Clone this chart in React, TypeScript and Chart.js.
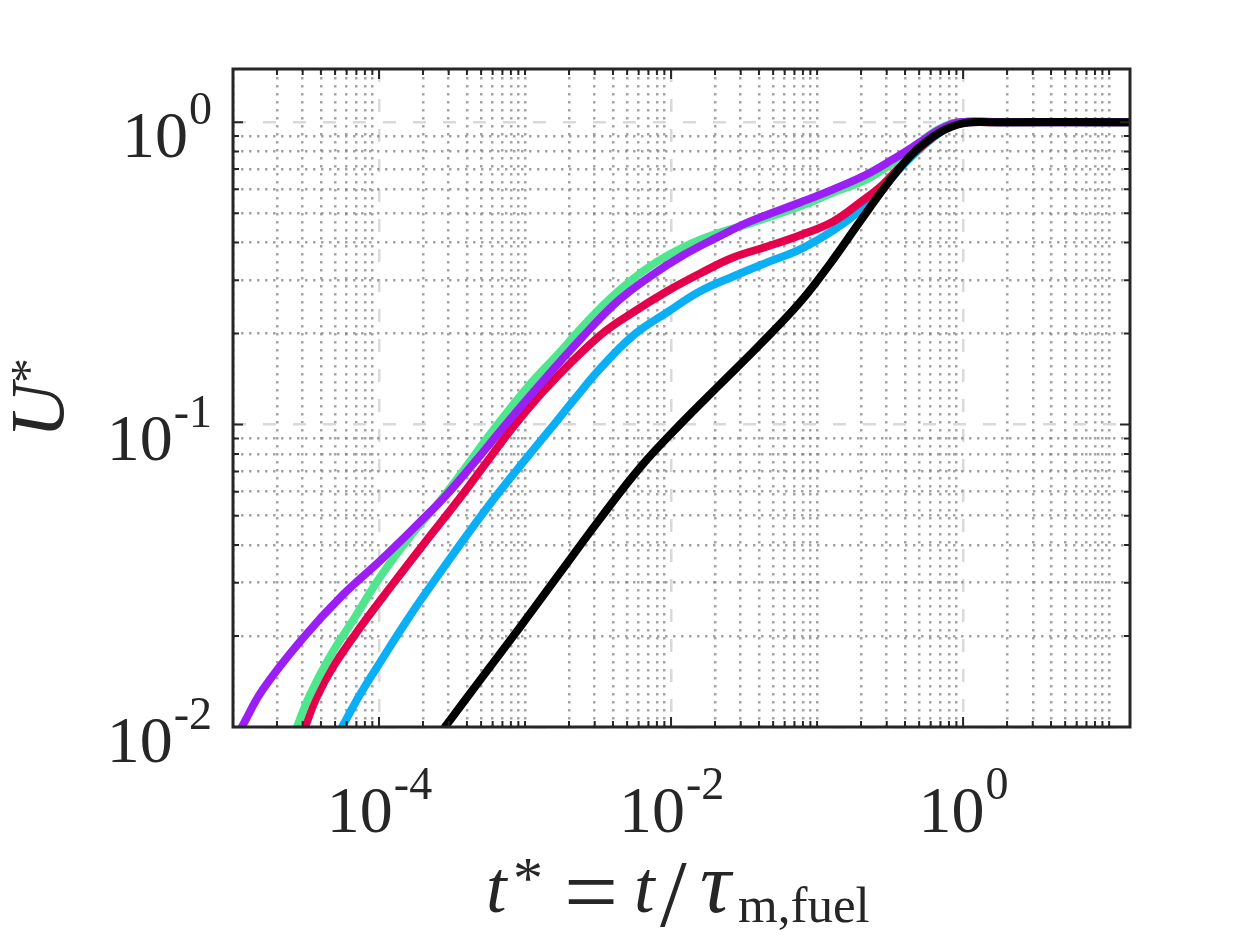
import React, { useEffect, useRef } from 'react';
import { Chart, registerables } from 'chart.js';

Chart.register(...registerables);

// axis limits
const T_MIN = 1e-5;
const T_MAX = 13.9;
const U_MIN = 0.01;
const U_MAX = 1.5;

// decades that carry a label (and a dashed major grid line)
const xLabelExps = [-4, -2, 0];
const yLabelExps = [-2, -1, 0];

// series: t* and U*
const blackT = [2.83e-4, 4.92e-4, 9.24e-4, 1.74e-3, 3.26e-3, 6.13e-3, 1.15e-2, 2.17e-2, 4.07e-2, 7.65e-2, 0.123, 0.197, 0.316, 0.469, 0.696, 1.0, 1.53, 13.9];
const blackU = [0.01, 0.0143, 0.0214, 0.0324, 0.0488, 0.0721, 0.1, 0.136, 0.184, 0.254, 0.341, 0.47, 0.643, 0.802, 0.927, 0.992, 1.0, 1.0];

const purpleT = [1.15e-5, 1.6e-5, 3.02e-5, 5.67e-5, 1.02e-4, 1.91e-4, 2.83e-4, 4.55e-4, 7.18e-4, 1.27e-3, 2.5e-3, 4.27e-3, 7.18e-3, 1.21e-2, 2.07e-2, 3.48e-2, 7.65e-2, 0.129, 0.22, 0.332, 0.484, 0.696, 0.954, 1.79, 13.9];
const purpleU = [0.01, 0.0133, 0.0197, 0.0274, 0.0355, 0.0477, 0.0578, 0.0754, 0.0985, 0.136, 0.196, 0.255, 0.309, 0.363, 0.416, 0.47, 0.543, 0.6, 0.673, 0.755, 0.846, 0.948, 1.0, 1.0, 1.0];

const greenT = [2.74e-5, 3.37e-5, 4.62e-5, 6.85e-5, 1.02e-4, 1.63e-4, 2.83e-4, 6.23e-4, 1.08e-3, 1.74e-3, 2.66e-3, 4.27e-3, 7.18e-3, 1.21e-2, 2.07e-2, 3.48e-2, 7.65e-2, 0.129, 0.22, 0.332, 0.484, 0.696, 0.954, 1.79, 13.9];
const greenU = [0.01, 0.0128, 0.0171, 0.0231, 0.0314, 0.0426, 0.0586, 0.0977, 0.136, 0.174, 0.219, 0.274, 0.334, 0.386, 0.429, 0.463, 0.527, 0.586, 0.648, 0.737, 0.846, 0.955, 1.0, 1.0, 1.0];

const redT = [3.11e-5, 3.76e-5, 4.84e-5, 7.41e-5, 1.23e-4, 2.0e-4, 3.59e-4, 5.76e-4, 8.54e-4, 1.48e-3, 3.26e-3, 5.49e-3, 9.39e-3, 1.58e-2, 2.66e-2, 4.55e-2, 7.65e-2, 0.129, 0.197, 0.283, 0.413, 0.594, 0.815, 1.12, 1.79, 13.9];
const redU = [0.01, 0.0126, 0.0158, 0.0213, 0.0295, 0.04, 0.0573, 0.0778, 0.1, 0.136, 0.197, 0.235, 0.276, 0.316, 0.357, 0.388, 0.423, 0.47, 0.543, 0.623, 0.755, 0.878, 0.985, 1.0, 1.0, 1.0];

const cyanT = [5.58e-5, 7.41e-5, 1.02e-4, 1.56e-4, 2.5e-4, 4.01e-4, 6.43e-4, 1.03e-3, 1.48e-3, 2.2e-3, 3.26e-3, 5.49e-3, 9.39e-3, 1.58e-2, 2.66e-2, 4.55e-2, 7.65e-2, 0.129, 0.197, 0.283, 0.413, 0.594, 0.815, 1.12, 1.79, 13.9];
const cyanU = [0.01, 0.0128, 0.0164, 0.0226, 0.0314, 0.0432, 0.0586, 0.0778, 0.0963, 0.122, 0.153, 0.197, 0.235, 0.276, 0.309, 0.344, 0.38, 0.439, 0.511, 0.609, 0.743, 0.872, 0.97, 1.0, 1.0, 1.0];

const AXIS = '#262626';
const SERIF = '"Liberation Serif", "Times New Roman", serif';

const toPoints = (t: number[], u: number[]) => t.map((v, i) => ({ x: v, y: u[i] }));

const decade = (v: number) => {
  const e = Math.log10(v);
  return Math.abs(e - Math.round(e)) < 1e-6 ? Math.round(e) : null;
};
const isMajorX = (v: number) => {
  const e = decade(v);
  return e !== null && xLabelExps.includes(e);
};
const isMajorY = (v: number) => {
  const e = decade(v);
  return e !== null && yLabelExps.includes(e);
};

const logTicks = (min: number, max: number) => {
  const out: { value: number }[] = [];
  for (let e = Math.floor(Math.log10(min)); e <= Math.ceil(Math.log10(max)); e++) {
    for (let m = 1; m < 10; m++) {
      const v = m * Math.pow(10, e);
      if (v >= min * 0.9999 && v <= max * 1.0001) out.push({ value: v });
    }
  }
  return out;
};

// 10^e drawn with a raised exponent
const drawPower = (ctx: CanvasRenderingContext2D, exp: number, x: number, y: number, align: 'center' | 'right') => {
  const main = `66px ${SERIF}`;
  const sup = `46px ${SERIF}`;
  ctx.font = main;
  const w1 = ctx.measureText('10').width;
  ctx.font = sup;
  const w2 = ctx.measureText(String(exp)).width;
  const start = align === 'center' ? x - (w1 + w2) / 2 : x - w1 - w2;
  ctx.textAlign = 'left';
  ctx.textBaseline = 'alphabetic';
  ctx.font = main;
  ctx.fillText('10', start, y);
  ctx.font = sup;
  ctx.fillText(String(exp), start + w1 + 1, y - 33);
};

const gridColor = (major: boolean) => (major ? '#d9d9d9' : 'rgba(125,125,125,0.7)');

const axesPlugin = {
  id: 'matlabAxes',
  afterDraw(chart: any) {
    const { ctx, chartArea: a, scales } = chart;
    const x = scales.x;
    const y = scales.y;
    ctx.save();

    // inward ticks on all four sides
    ctx.strokeStyle = AXIS;
    ctx.lineWidth = 2;
    ctx.beginPath();
    x.ticks.forEach((t: any) => {
      const px = x.getPixelForValue(t.value);
      const len = isMajorX(t.value) ? 10 : 6;
      ctx.moveTo(px, a.bottom);
      ctx.lineTo(px, a.bottom - len);
      ctx.moveTo(px, a.top);
      ctx.lineTo(px, a.top + len);
    });
    y.ticks.forEach((t: any) => {
      const py = y.getPixelForValue(t.value);
      const len = isMajorY(t.value) ? 10 : 6;
      ctx.moveTo(a.left, py);
      ctx.lineTo(a.left + len, py);
      ctx.moveTo(a.right, py);
      ctx.lineTo(a.right - len, py);
    });
    ctx.stroke();

    ctx.lineWidth = 3;
    ctx.strokeRect(a.left, a.top, a.right - a.left, a.bottom - a.top);

    // tick labels
    ctx.fillStyle = AXIS;
    xLabelExps.forEach((e) => {
      drawPower(ctx, e, x.getPixelForValue(Math.pow(10, e)), a.bottom + 105, 'center');
    });
    yLabelExps.forEach((e) => {
      drawPower(ctx, e, a.left - 22, y.getPixelForValue(Math.pow(10, e)) + 35, 'right');
    });

    // x title: t* = t / tau_{m,fuel}, laid out like the LaTeX original
    const it = `italic 74px ${SERIF}`;
    const segs = [
      { text: 't', font: it, x: 486, y: 912 },
      { text: '*', font: `60px ${SERIF}`, x: 513, y: 898 },
      { text: '=', font: `96px ${SERIF}`, x: 564, y: 924 },
      { text: 't', font: it, x: 634, y: 912 },
      { text: '/', font: `96px ${SERIF}`, x: 660, y: 926 },
      { text: 'τ', font: `italic 86px ${SERIF}`, x: 700, y: 912 },
      { text: 'm,fuel', font: `51px ${SERIF}`, x: 738, y: 922 },
    ];
    ctx.textAlign = 'left';
    ctx.textBaseline = 'alphabetic';
    segs.forEach((s) => {
      ctx.font = s.font;
      ctx.fillText(s.text, s.x, s.y);
    });

    // y title: U*
    ctx.translate(63, (a.top + a.bottom) / 2);
    ctx.rotate(-Math.PI / 2);
    const uFont = `italic 76px ${SERIF}`;
    const starFont = `50px ${SERIF}`;
    ctx.font = uFont;
    const wu = ctx.measureText('U').width;
    ctx.font = starFont;
    const ws = ctx.measureText('*').width;
    const sx = -(wu + ws) / 2;
    ctx.font = uFont;
    ctx.fillText('U', sx, 0);
    ctx.font = starFont;
    ctx.fillText('*', sx + wu, -18);

    ctx.restore();
  },
};

const App: React.FC = () => {
  const canvasRef = useRef<HTMLCanvasElement>(null);
  const chartRef = useRef<Chart | null>(null);

  useEffect(() => {
    if (!canvasRef.current) return;
    if (chartRef.current) chartRef.current.destroy();

    const line = (label: string, t: number[], u: number[], color: string) => ({
      label,
      data: toPoints(t, u),
      borderColor: color,
      backgroundColor: color,
      borderWidth: 8,
      pointRadius: 0,
      tension: 0.4,
      borderCapStyle: 'round' as const,
      borderJoinStyle: 'round' as const,
      clip: 0,
    });

    chartRef.current = new Chart(canvasRef.current, {
      type: 'line',
      data: {
        // first dataset ends up on top
        datasets: [
          line('black', blackT, blackU, '#000000'),
          line('purple', purpleT, purpleU, '#9B1EF5'),
          line('green', greenT, greenU, '#4FE68E'),
          line('red', redT, redU, '#E4004B'),
          line('cyan', cyanT, cyanU, '#0AAFF5'),
        ],
      },
      options: {
        animation: false,
        responsive: true,
        maintainAspectRatio: false,
        layout: { padding: { left: 233, top: 69, right: 120, bottom: 211 } },
        plugins: { legend: { display: false }, tooltip: { enabled: false } },
        scales: {
          x: {
            type: 'logarithmic',
            min: T_MIN,
            max: T_MAX,
            afterBuildTicks: (scale: any) => {
              scale.ticks = logTicks(T_MIN, T_MAX);
            },
            ticks: { display: false },
            grid: {
              drawTicks: false,
              color: (c: any) => (c.tick ? gridColor(isMajorX(c.tick.value)) : 'transparent'),
              lineWidth: 2.5,
            },
            border: {
              display: false,
              dash: (c: any) => (c.tick && isMajorX(c.tick.value) ? [13, 17] : [2.5, 5.5]),
            },
          },
          y: {
            type: 'logarithmic',
            min: U_MIN,
            max: U_MAX,
            afterBuildTicks: (scale: any) => {
              scale.ticks = logTicks(U_MIN, U_MAX);
            },
            ticks: { display: false },
            grid: {
              drawTicks: false,
              color: (c: any) => (c.tick ? gridColor(isMajorY(c.tick.value)) : 'transparent'),
              lineWidth: 2.5,
            },
            border: {
              display: false,
              dash: (c: any) => (c.tick && isMajorY(c.tick.value) ? [13, 17] : [2.5, 5.5]),
            },
          },
        },
      },
      plugins: [axesPlugin],
    });

    return () => {
      if (chartRef.current) {
        chartRef.current.destroy();
        chartRef.current = null;
      }
    };
  }, []);

  return (
    <div style={{ position: 'fixed', left: 0, top: 0, width: 1250, height: 938, background: '#fff' }}>
      <canvas ref={canvasRef} />
    </div>
  );
};

export default App;
